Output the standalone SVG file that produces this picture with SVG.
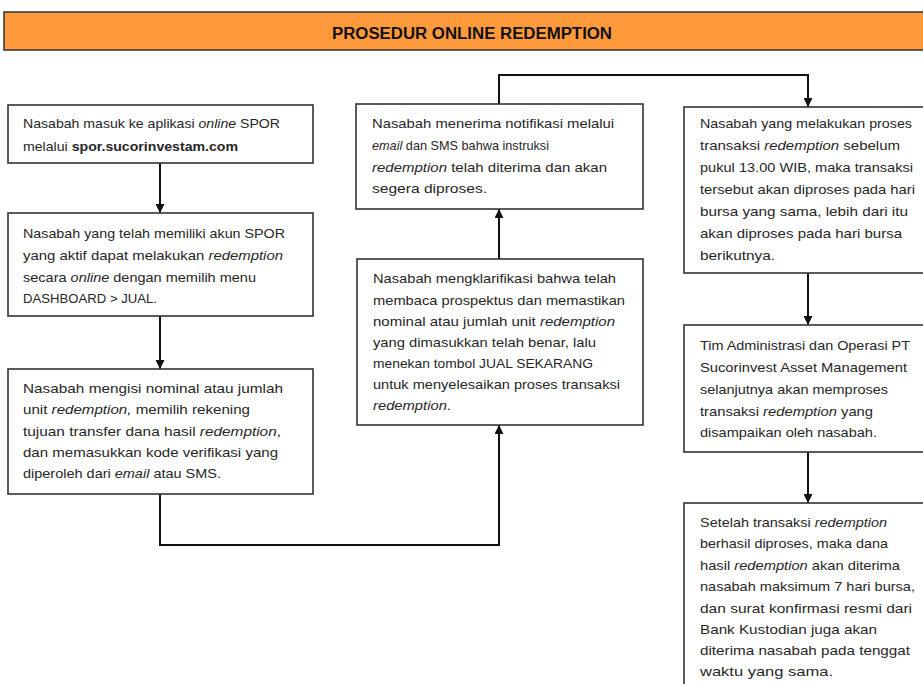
<svg xmlns="http://www.w3.org/2000/svg" width="923" height="684" viewBox="0 0 923 684">
<style>
.box{fill:#fff;stroke:#333;stroke-width:1.6}
.t{font-family:"Liberation Sans",Arial,sans-serif;font-size:13.5px;fill:#262626}
.i{font-style:italic}
.b{font-weight:bold}
.c{fill:none;stroke:#111;stroke-width:2}
.title{font-family:"Liberation Sans",Arial,sans-serif;font-size:16px;font-weight:bold;fill:#111}
</style>
<defs>
<marker id="ah" viewBox="0 0 10 10" refX="10" refY="5" markerWidth="4.5" markerHeight="4.5" orient="auto" markerUnits="strokeWidth">
<path d="M0,0 L10,5 L0,10 Z" fill="#111"/>
</marker>
</defs>
<g id="header">
<rect x="4" y="12" width="925" height="38" fill="#FF9A3C" stroke="#3a3a3a" stroke-width="1.6"/>
<text class="title" x="332" y="39" textLength="280" lengthAdjust="spacingAndGlyphs">PROSEDUR ONLINE REDEMPTION</text>
</g>
<g id="connectors">
<path class="c" d="M160 163 V213" marker-end="url(#ah)"/>
<path class="c" d="M160 316 V369" marker-end="url(#ah)"/>
<path class="c" d="M160 494 V545 H499 V425" marker-end="url(#ah)"/>
<path class="c" d="M499 259 V209" marker-end="url(#ah)"/>
<path class="c" d="M499 104 V75 H808 V107" marker-end="url(#ah)"/>
<path class="c" d="M808 273 V325" marker-end="url(#ah)"/>
<path class="c" d="M808 452 V503" marker-end="url(#ah)"/>
</g>
<g id="n1">
<rect class="box" x="8" y="105" width="305" height="58"/>
<text class="t" x="23" y="128" textLength="257" lengthAdjust="spacingAndGlyphs">Nasabah masuk ke aplikasi <tspan class="i">online</tspan> SPOR</text>
<text class="t" x="23" y="151" textLength="215" lengthAdjust="spacingAndGlyphs">melalui <tspan class="b">spor.sucorinvestam.com</tspan></text>
</g>
<g id="n2">
<rect class="box" x="8" y="213" width="305" height="103"/>
<text class="t" x="23" y="238" textLength="262" lengthAdjust="spacingAndGlyphs">Nasabah yang telah memiliki akun SPOR</text>
<text class="t" x="23" y="260" textLength="260" lengthAdjust="spacingAndGlyphs">yang aktif dapat melakukan <tspan class="i">redemption</tspan></text>
<text class="t" x="23" y="282" textLength="233" lengthAdjust="spacingAndGlyphs">secara <tspan class="i">online</tspan> dengan memilih menu</text>
<text class="t" x="23" y="303" textLength="134" lengthAdjust="spacingAndGlyphs">DASHBOARD &gt; JUAL.</text>
</g>
<g id="n3">
<rect class="box" x="8" y="369" width="305" height="125"/>
<text class="t" x="23" y="393" textLength="260" lengthAdjust="spacingAndGlyphs">Nasabah mengisi nominal atau jumlah</text>
<text class="t" x="23" y="414" textLength="227" lengthAdjust="spacingAndGlyphs">unit <tspan class="i">redemption,</tspan> memilih rekening</text>
<text class="t" x="23" y="436" textLength="258" lengthAdjust="spacingAndGlyphs">tujuan transfer dana hasil <tspan class="i">redemption</tspan>,</text>
<text class="t" x="23" y="457" textLength="255" lengthAdjust="spacingAndGlyphs">dan memasukkan kode verifikasi yang</text>
<text class="t" x="23" y="478" textLength="198" lengthAdjust="spacingAndGlyphs">diperoleh dari <tspan class="i">email</tspan> atau SMS.</text>
</g>
<g id="n4">
<rect class="box" x="357" y="259" width="286" height="166"/>
<text class="t" x="373" y="283" textLength="243" lengthAdjust="spacingAndGlyphs">Nasabah mengklarifikasi bahwa telah</text>
<text class="t" x="373" y="305" textLength="252" lengthAdjust="spacingAndGlyphs">membaca prospektus dan memastikan</text>
<text class="t" x="373" y="326" textLength="242" lengthAdjust="spacingAndGlyphs">nominal atau jumlah unit <tspan class="i">redemption</tspan></text>
<text class="t" x="373" y="347" textLength="223" lengthAdjust="spacingAndGlyphs">yang dimasukkan telah benar, lalu</text>
<text class="t" x="373" y="368" textLength="220" lengthAdjust="spacingAndGlyphs">menekan tombol JUAL SEKARANG</text>
<text class="t" x="373" y="389" textLength="247" lengthAdjust="spacingAndGlyphs">untuk menyelesaikan proses transaksi</text>
<text class="t" x="373" y="410" textLength="78" lengthAdjust="spacingAndGlyphs"><tspan class="i">redemption</tspan>.</text>
</g>
<g id="n5">
<rect class="box" x="356" y="104" width="287" height="105"/>
<text class="t" x="372" y="128" textLength="242" lengthAdjust="spacingAndGlyphs">Nasabah menerima notifikasi melalui</text>
<text class="t" x="372" y="150" textLength="177" lengthAdjust="spacingAndGlyphs"><tspan class="i">email</tspan> dan SMS bahwa instruksi</text>
<text class="t" x="372" y="172" textLength="235" lengthAdjust="spacingAndGlyphs"><tspan class="i">redemption</tspan>  telah diterima dan akan</text>
<text class="t" x="372" y="193" textLength="115" lengthAdjust="spacingAndGlyphs">segera diproses.</text>
</g>
<g id="n6">
<rect class="box" x="684" y="107" width="245" height="166"/>
<text class="t" x="700" y="128" textLength="212" lengthAdjust="spacingAndGlyphs">Nasabah yang melakukan proses</text>
<text class="t" x="700" y="150" textLength="200" lengthAdjust="spacingAndGlyphs">transaksi <tspan class="i">redemption</tspan> sebelum</text>
<text class="t" x="700" y="172" textLength="213" lengthAdjust="spacingAndGlyphs">pukul 13.00 WIB, maka transaksi</text>
<text class="t" x="700" y="194" textLength="215" lengthAdjust="spacingAndGlyphs">tersebut akan diproses pada hari</text>
<text class="t" x="700" y="216" textLength="208" lengthAdjust="spacingAndGlyphs">bursa yang sama, lebih dari itu</text>
<text class="t" x="700" y="238" textLength="202" lengthAdjust="spacingAndGlyphs">akan diproses pada hari bursa</text>
<text class="t" x="700" y="260" textLength="75" lengthAdjust="spacingAndGlyphs">berikutnya.</text>
</g>
<g id="n7">
<rect class="box" x="684" y="325" width="245" height="127"/>
<text class="t" x="700" y="350" textLength="210" lengthAdjust="spacingAndGlyphs">Tim Administrasi dan Operasi PT</text>
<text class="t" x="700" y="372" textLength="207" lengthAdjust="spacingAndGlyphs">Sucorinvest Asset Management</text>
<text class="t" x="700" y="394" textLength="188" lengthAdjust="spacingAndGlyphs">selanjutnya akan memproses</text>
<text class="t" x="700" y="416" textLength="173" lengthAdjust="spacingAndGlyphs">transaksi <tspan class="i">redemption</tspan> yang</text>
<text class="t" x="700" y="437" textLength="177" lengthAdjust="spacingAndGlyphs">disampaikan oleh nasabah.</text>
</g>
<g id="n8">
<rect class="box" x="684" y="503" width="245" height="200"/>
<text class="t" x="700" y="527" textLength="187" lengthAdjust="spacingAndGlyphs">Setelah transaksi <tspan class="i">redemption</tspan></text>
<text class="t" x="700" y="548" textLength="188" lengthAdjust="spacingAndGlyphs">berhasil diproses, maka dana</text>
<text class="t" x="700" y="570" textLength="200" lengthAdjust="spacingAndGlyphs">hasil <tspan class="i">redemption</tspan> akan diterima</text>
<text class="t" x="700" y="591" textLength="215" lengthAdjust="spacingAndGlyphs">nasabah maksimum 7 hari bursa,</text>
<text class="t" x="700" y="613" textLength="212" lengthAdjust="spacingAndGlyphs">dan surat konfirmasi resmi dari</text>
<text class="t" x="700" y="634" textLength="177" lengthAdjust="spacingAndGlyphs">Bank Kustodian juga akan</text>
<text class="t" x="700" y="655" textLength="210" lengthAdjust="spacingAndGlyphs">diterima nasabah pada tenggat</text>
<text class="t" x="700" y="676" textLength="133" lengthAdjust="spacingAndGlyphs">waktu yang sama.</text>
</g>
</svg>
